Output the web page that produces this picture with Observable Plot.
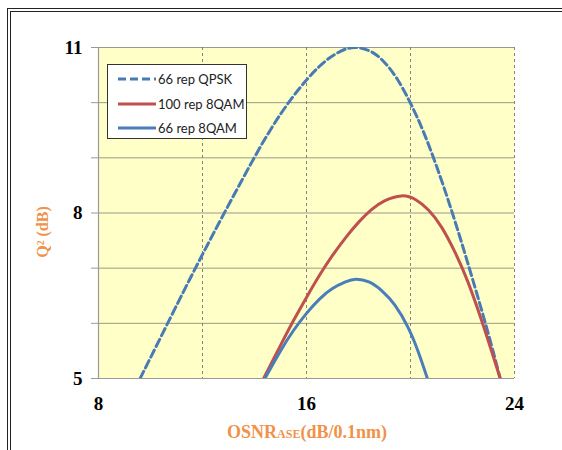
<!DOCTYPE html>
<html>
<head>
<meta charset="utf-8">
<script src="https://cdn.jsdelivr.net/npm/d3@7"></script>
<script src="https://cdn.jsdelivr.net/npm/@observablehq/plot@0.6"></script>
<style>
  html, body { margin: 0; padding: 0; background: #fff; }
  #wrap { position: relative; width: 562px; height: 450px; overflow: hidden; }
  #frame { position: absolute; left: 7px; top: 8px; width: 600px; height: 500px;
           border-left: 4px double #222; border-top: 4px double #222; box-sizing: border-box; }
  #chart { position: absolute; left: 0; top: 0; }
  .title { position: absolute; color: #F0924A; font-family: "Liberation Serif", serif; font-weight: bold; white-space: nowrap; }
  #legend { position: absolute; left: 107px; top: 64px; width: 140px; height: 75px; background: #fff;
            border: 1px solid #333; box-sizing: border-box; font-family: Lato, "Liberation Sans", sans-serif; font-size: 13px; color: #222; }
  #legend .row { position: absolute; left: 10px; height: 16px; display: flex; align-items: center; }
  #legend svg { margin-right: 2px; }
</style>
</head>
<body>
<div id="wrap">
  <div id="frame"></div>
  <div id="chart"></div>
  <div class="title" id="ytitle" style="left:43px; top:232px; font-size:16px; transform: translate(-50%,-50%) rotate(-90deg);">Q² (dB)</div>
  <div class="title" id="xtitle" style="left:307px; top:432px; font-size:18px; transform: translate(-50%,-50%);">OSNR<span style="font-size:12px;">ASE</span>(dB/0.1nm)</div>
  <div id="legend"></div>
</div>
<script>
// Data
const seriesNames = ["66 rep QPSK", "100 rep 8QAM", "66 rep 8QAM"];
const seriesColors = ["#4A7AB5", "#C0504D", "#4A7EBB"];

const qpskX = [9.6, 10.5, 11.5, 12.5, 13.5, 14.5, 15.5, 16.5, 17.3, 17.9, 18.5, 19.0, 19.5, 20.0, 20.5, 21.0, 21.5, 22.0, 22.5, 23.0, 23.45];
const qpskQ = [5.0, 5.85, 6.79, 7.7, 8.58, 9.42, 10.12, 10.66, 10.93, 11.0, 10.92, 10.73, 10.42, 9.99, 9.47, 8.85, 8.16, 7.41, 6.62, 5.8, 5.0];

const qam100X = [14.35, 15.0, 15.5, 16.0, 16.5, 17.0, 17.5, 18.0, 18.5, 19.0, 19.65, 20.2, 20.7, 21.2, 21.7, 22.2, 22.8, 23.45];
const qam100Q = [5.0, 5.6, 6.05, 6.47, 6.87, 7.23, 7.55, 7.83, 8.06, 8.22, 8.31, 8.24, 8.05, 7.74, 7.3, 6.76, 5.96, 5.0];

const qam66X = [14.4, 15.0, 15.5, 16.0, 16.5, 17.0, 17.5, 17.9, 18.4, 18.9, 19.4, 19.9, 20.3, 20.65];
const qam66Q = [5.0, 5.5, 5.87, 6.18, 6.44, 6.63, 6.75, 6.8, 6.75, 6.59, 6.33, 5.93, 5.48, 5.0];

const xTickLabels = [8, 16, 24];
const yTickLabels = [5, 8, 11];
const xGrid = [12, 16, 20, 24];
const yGrid = [6, 7, 8, 9, 10, 11];

const toRows = (xs, ys) => xs.map((x, i) => ({x, y: ys[i]}));
const qpsk = toRows(qpskX, qpskQ);
const qam100 = toRows(qam100X, qam100Q);
const qam66 = toRows(qam66X, qam66Q);

const chart = Plot.plot({
  width: 562,
  height: 450,
  marginLeft: 98,
  marginRight: 48,
  marginTop: 47,
  marginBottom: 72,
  style: { background: "transparent", fontFamily: "Liberation Serif, serif", color: "#000" },
  x: { domain: [8, 24] },
  y: { domain: [5, 11] },
  marks: [
    Plot.frame({ fill: "#FFFFC8", stroke: null }),
    Plot.gridY(yGrid, { stroke: "#9A9A8A", strokeOpacity: 1, strokeWidth: 1 }),
    Plot.gridX(xGrid, { stroke: "#777", strokeOpacity: 0.9, strokeWidth: 1, strokeDasharray: "3,3" }),
    Plot.ruleX([8], { stroke: "#9A9A9A", strokeWidth: 1.2 }),
    Plot.ruleY([5], { stroke: "#9A9A9A", strokeWidth: 1.2 }),
    Plot.axisY(d3.range(5, 12), {
      tickSize: 7, tickPadding: 9, stroke: "#9A9A9A",
      tickFormat: d => yTickLabels.includes(d) ? String(d) : "",
      fontSize: 19, fontWeight: "bold", label: null
    }),
    Plot.axisX(xTickLabels, {
      tickSize: 0, tickPadding: 18, fontSize: 19, fontWeight: "bold", label: null
    }),
    Plot.line(qpsk, { x: "x", y: "y", stroke: seriesColors[0], strokeWidth: 3, strokeDasharray: "8,4", curve: "natural", clip: true }),
    Plot.line(qam100, { x: "x", y: "y", stroke: seriesColors[1], strokeWidth: 3, curve: "natural", clip: true }),
    Plot.line(qam66, { x: "x", y: "y", stroke: seriesColors[2], strokeWidth: 3, curve: "natural", clip: true })
  ]
});
document.getElementById("chart").appendChild(chart);

// Legend
const legend = document.getElementById("legend");
const dashes = ["8,4", null, null];
const rowTops = [6, 31, 55];
seriesNames.forEach((name, i) => {
  const row = document.createElement("div");
  row.className = "row";
  row.style.top = rowTops[i] + "px";
  const dash = dashes[i] ? ` stroke-dasharray="${dashes[i]}"` : "";
  row.innerHTML = `<svg width="38" height="8"><line x1="0" y1="4" x2="38" y2="4" stroke="${seriesColors[i]}" stroke-width="3"${dash}/></svg><span>${name}</span>`;
  legend.appendChild(row);
});
</script>
</body>
</html>
